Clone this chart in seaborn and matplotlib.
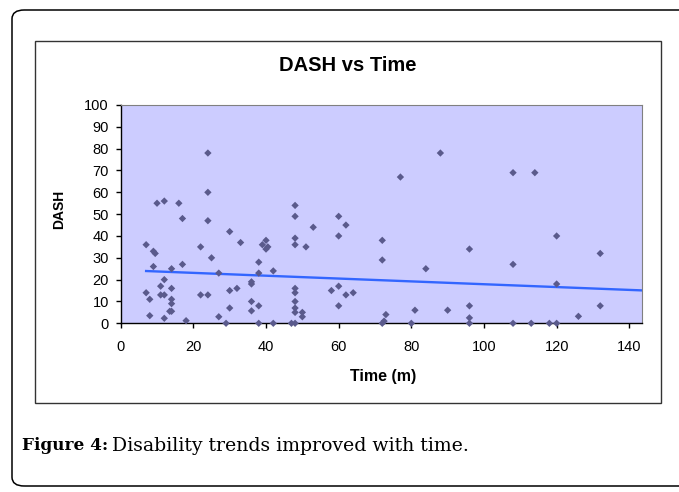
import numpy as np
import pandas as pd
import matplotlib
matplotlib.use("Agg")
import matplotlib.pyplot as plt
from matplotlib.patches import FancyBboxPatch, Rectangle
import seaborn as sns

# ---- data ----
time_m = [24, 24, 24, 10, 12, 16, 17, 7, 9, 9.5, 9, 7, 8, 8, 11, 11, 12, 12, 14, 14,
          14, 14, 13.5, 14, 12, 18, 17, 22, 22, 24, 25, 27, 27, 29, 30, 30, 30, 32, 33, 36,
          36, 36, 36, 38, 38, 38, 38, 39, 40, 40.5, 40, 42, 42,
          48, 48, 48, 48, 48, 48, 48, 48, 48, 50, 50, 47, 48, 53, 51, 58, 60, 60, 60, 60,
          62, 62, 64, 72, 72, 73, 72, 72.5, 77, 81, 80, 84, 88, 90,
          108, 114, 120, 96, 132, 108, 120, 96, 96, 96, 126, 132, 108, 113, 118, 120]
dash = [78, 60, 47, 55, 56, 55, 48, 36, 33, 32, 26, 14, 11, 3.5, 17, 13, 13, 20, 25, 16,
        11, 9, 5.5, 5.5, 2.3, 1.2, 27, 35, 13, 13, 30, 23, 3, 0, 42, 15, 7, 16, 37, 19,
        18, 10, 5.7, 28, 23, 8, 0, 36, 34, 35, 38, 24, 0,
        54, 49, 39, 36, 16, 14, 10, 7, 5, 5, 3, 0, 0, 44, 35, 15, 49, 40, 17, 8,
        45, 13, 14, 38, 29, 4, 0, 1, 67, 6, 0, 25, 78, 6,
        69, 69, 40, 34, 32, 27, 18, 8, 2.5, 0, 3.2, 8, 0, 0, 0, 0]
x_ticks = [0, 20, 40, 60, 80, 100, 120, 140]
y_ticks = [0, 10, 20, 30, 40, 50, 60, 70, 80, 90, 100]

# linear trendline as shown in the chart
trend_intercept = 24.4
trend_slope = -0.065

df = pd.DataFrame({"Time": time_m, "DASH": dash})

x_max = 143.5
trend = pd.DataFrame({"Time": [min(time_m), x_max]})
trend["DASH"] = trend_intercept + trend_slope * trend["Time"]

W, H = 679, 492
fig = plt.figure(figsize=(W / 100, H / 100), dpi=100)
fig.patch.set_facecolor("white")

# outer document box (rounded)
outer = FancyBboxPatch((12 / W, 6 / H), (720 - 12) / W, (482 - 6) / H,
                       boxstyle="round,pad=0,rounding_size=0.018",
                       transform=fig.transFigure, fill=False, edgecolor="black",
                       linewidth=1.1, clip_on=False)
fig.patches.append(outer)
# chart area box
inner = Rectangle((35 / W, 1 - 403 / H), (661 - 35) / W, (403 - 41) / H,
                  transform=fig.transFigure, fill=False, edgecolor="#333333",
                  linewidth=1.0)
fig.patches.append(inner)

left, right = 120.7 / W, 642 / W
bottom, top = 1 - 323.3 / H, 1 - 105 / H
ax = fig.add_axes([left, bottom, right - left, top - bottom])
ax.set_facecolor("#CCCCFF")

sns.scatterplot(data=df, x="Time", y="DASH", ax=ax, marker="D", s=14,
                color="#5A5A8C", edgecolor="none", linewidth=0, zorder=3,
                clip_on=False)
sns.lineplot(data=trend, x="Time", y="DASH", ax=ax, color="#3366FF",
             linewidth=1.7, zorder=2)

ax.set_xlim(0, x_max)
ax.set_ylim(0, 100)
ax.set_xticks(x_ticks)
ax.set_yticks(y_ticks)
fs = "Liberation Sans"
ax.set_xticklabels([str(v) for v in x_ticks], fontsize=10.5, family=fs)
ax.set_yticklabels([str(v) for v in y_ticks], fontsize=10.5, family=fs)
ax.tick_params(axis="both", direction="out", length=3.6, width=1, color="black")
ax.tick_params(axis="x", pad=8.5)
ax.tick_params(axis="y", pad=5)
for s in ["left", "bottom"]:
    ax.spines[s].set_color("black")
    ax.spines[s].set_linewidth(1.0)
for s in ["top", "right"]:
    ax.spines[s].set_color("#808080")
    ax.spines[s].set_linewidth(0.8)

ax.set_xlabel("Time (m)", fontsize=11.5, fontweight="bold", family=fs)
ax.xaxis.set_label_coords(0.504, (323.3 - 376) / 218.3)
ax.xaxis.label.set_va("center")
ax.set_ylabel("DASH", fontsize=10, fontweight="bold", family=fs)
ax.yaxis.set_label_coords((58.7 - 120.7) / 521.3, (323.3 - 209) / 218.3)
ax.yaxis.label.set_va("center")
fig.text(348 / W, 1 - 65.3 / H, "DASH vs Time", ha="center", va="center",
         fontsize=14.5, fontweight="bold", family=fs)

# caption
cap_y = 1 - 446 / H
t1 = fig.text(22 / W, cap_y, "Figure 4:", ha="left", va="center", fontsize=12.2,
              fontweight="bold", family="DejaVu Serif")
fig.canvas.draw()
bb = t1.get_window_extent()
fig.text(bb.x1 / W + 4 / W, cap_y, "Disability trends improved with time.",
         ha="left", va="center", fontsize=13.6, family="DejaVu Serif")

fig.savefig("out.png", dpi=100)
